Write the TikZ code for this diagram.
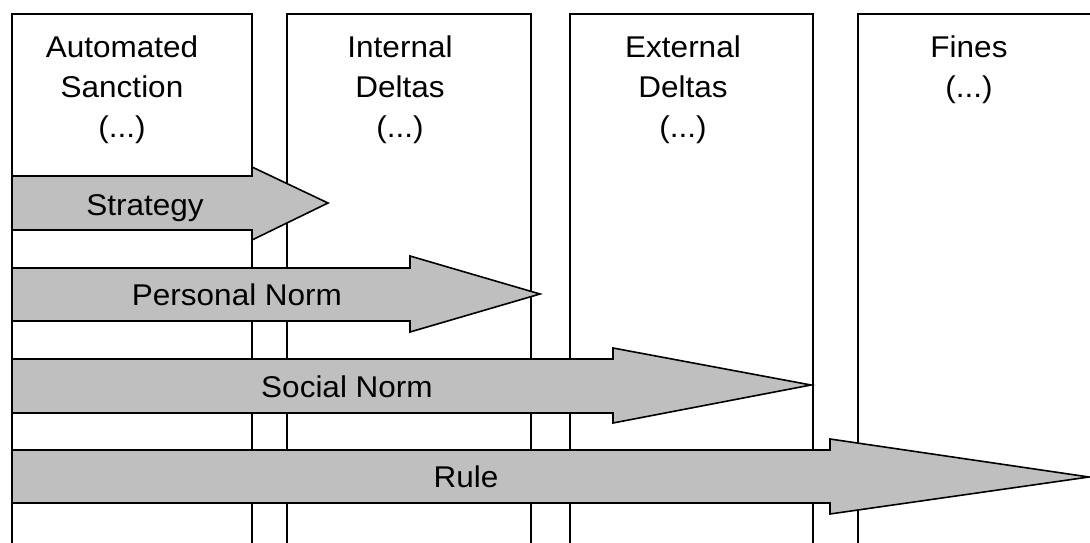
\documentclass[tikz,border=0pt]{standalone}
\usepackage{fontspec}
\setmainfont{Liberation Sans}[FakeStretch=1.05]
\begin{document}
\begin{tikzpicture}[x=1pt,y=-1pt,
  colbox/.style={draw=black,line width=1.6pt},
  bigarrow/.style={draw=black,fill=black!25,line width=1.6pt,line join=miter},
  coltitle/.style={anchor=north,inner sep=0pt,align=center,font=\fontsize{30}{40}\selectfont},
  arrlabel/.style={anchor=base,inner sep=0pt,font=\fontsize{30}{40}\selectfont}]
\useasboundingbox (0,0) rectangle (1090,543);
\fill[white] (0,0) rectangle (1090,543);
% columns (open at the bottom)
\draw[colbox] (12,560) -- (12,14) -- (252,14) -- (252,560);
\draw[colbox] (287,560) -- (287,14) -- (531,14) -- (531,560);
\draw[colbox] (570,560) -- (570,14) -- (813,14) -- (813,560);
\draw[colbox] (858,560) -- (858,14) -- (1100,14);
\node[coltitle] (c1) at (122,36) {Automated\\Sanction\\(...)};
\node[coltitle] (c2) at (400,36) {Internal\\Deltas\\(...)};
\node[coltitle] (c3) at (683,36) {External\\Deltas\\(...)};
\node[coltitle] (c4) at (969,36) {Fines\\(...)};
% arrows
\draw[bigarrow] (12,176) -- (252,176) -- (252,167) -- (328,203) -- (252,240) -- (252,230) -- (12,230) -- cycle;
\node[arrlabel] (a1) at (145,215) {Strategy};
\draw[bigarrow] (12,268) -- (410,268) -- (410,256) -- (540,294) -- (410,332) -- (410,321) -- (12,321) -- cycle;
\node[arrlabel] (a2) at (237,305) {Personal Norm};
\draw[bigarrow] (12,359) -- (613,359) -- (613,348) -- (811,385) -- (613,423) -- (613,413) -- (12,413) -- cycle;
\node[arrlabel] (a3) at (347,397) {Social Norm};
\draw[bigarrow] (12,450) -- (830,450) -- (830,439) -- (1089,477) -- (830,514) -- (830,503) -- (12,503) -- cycle;
\node[arrlabel] (a4) at (466,487) {Rule};
\end{tikzpicture}
\end{document}
